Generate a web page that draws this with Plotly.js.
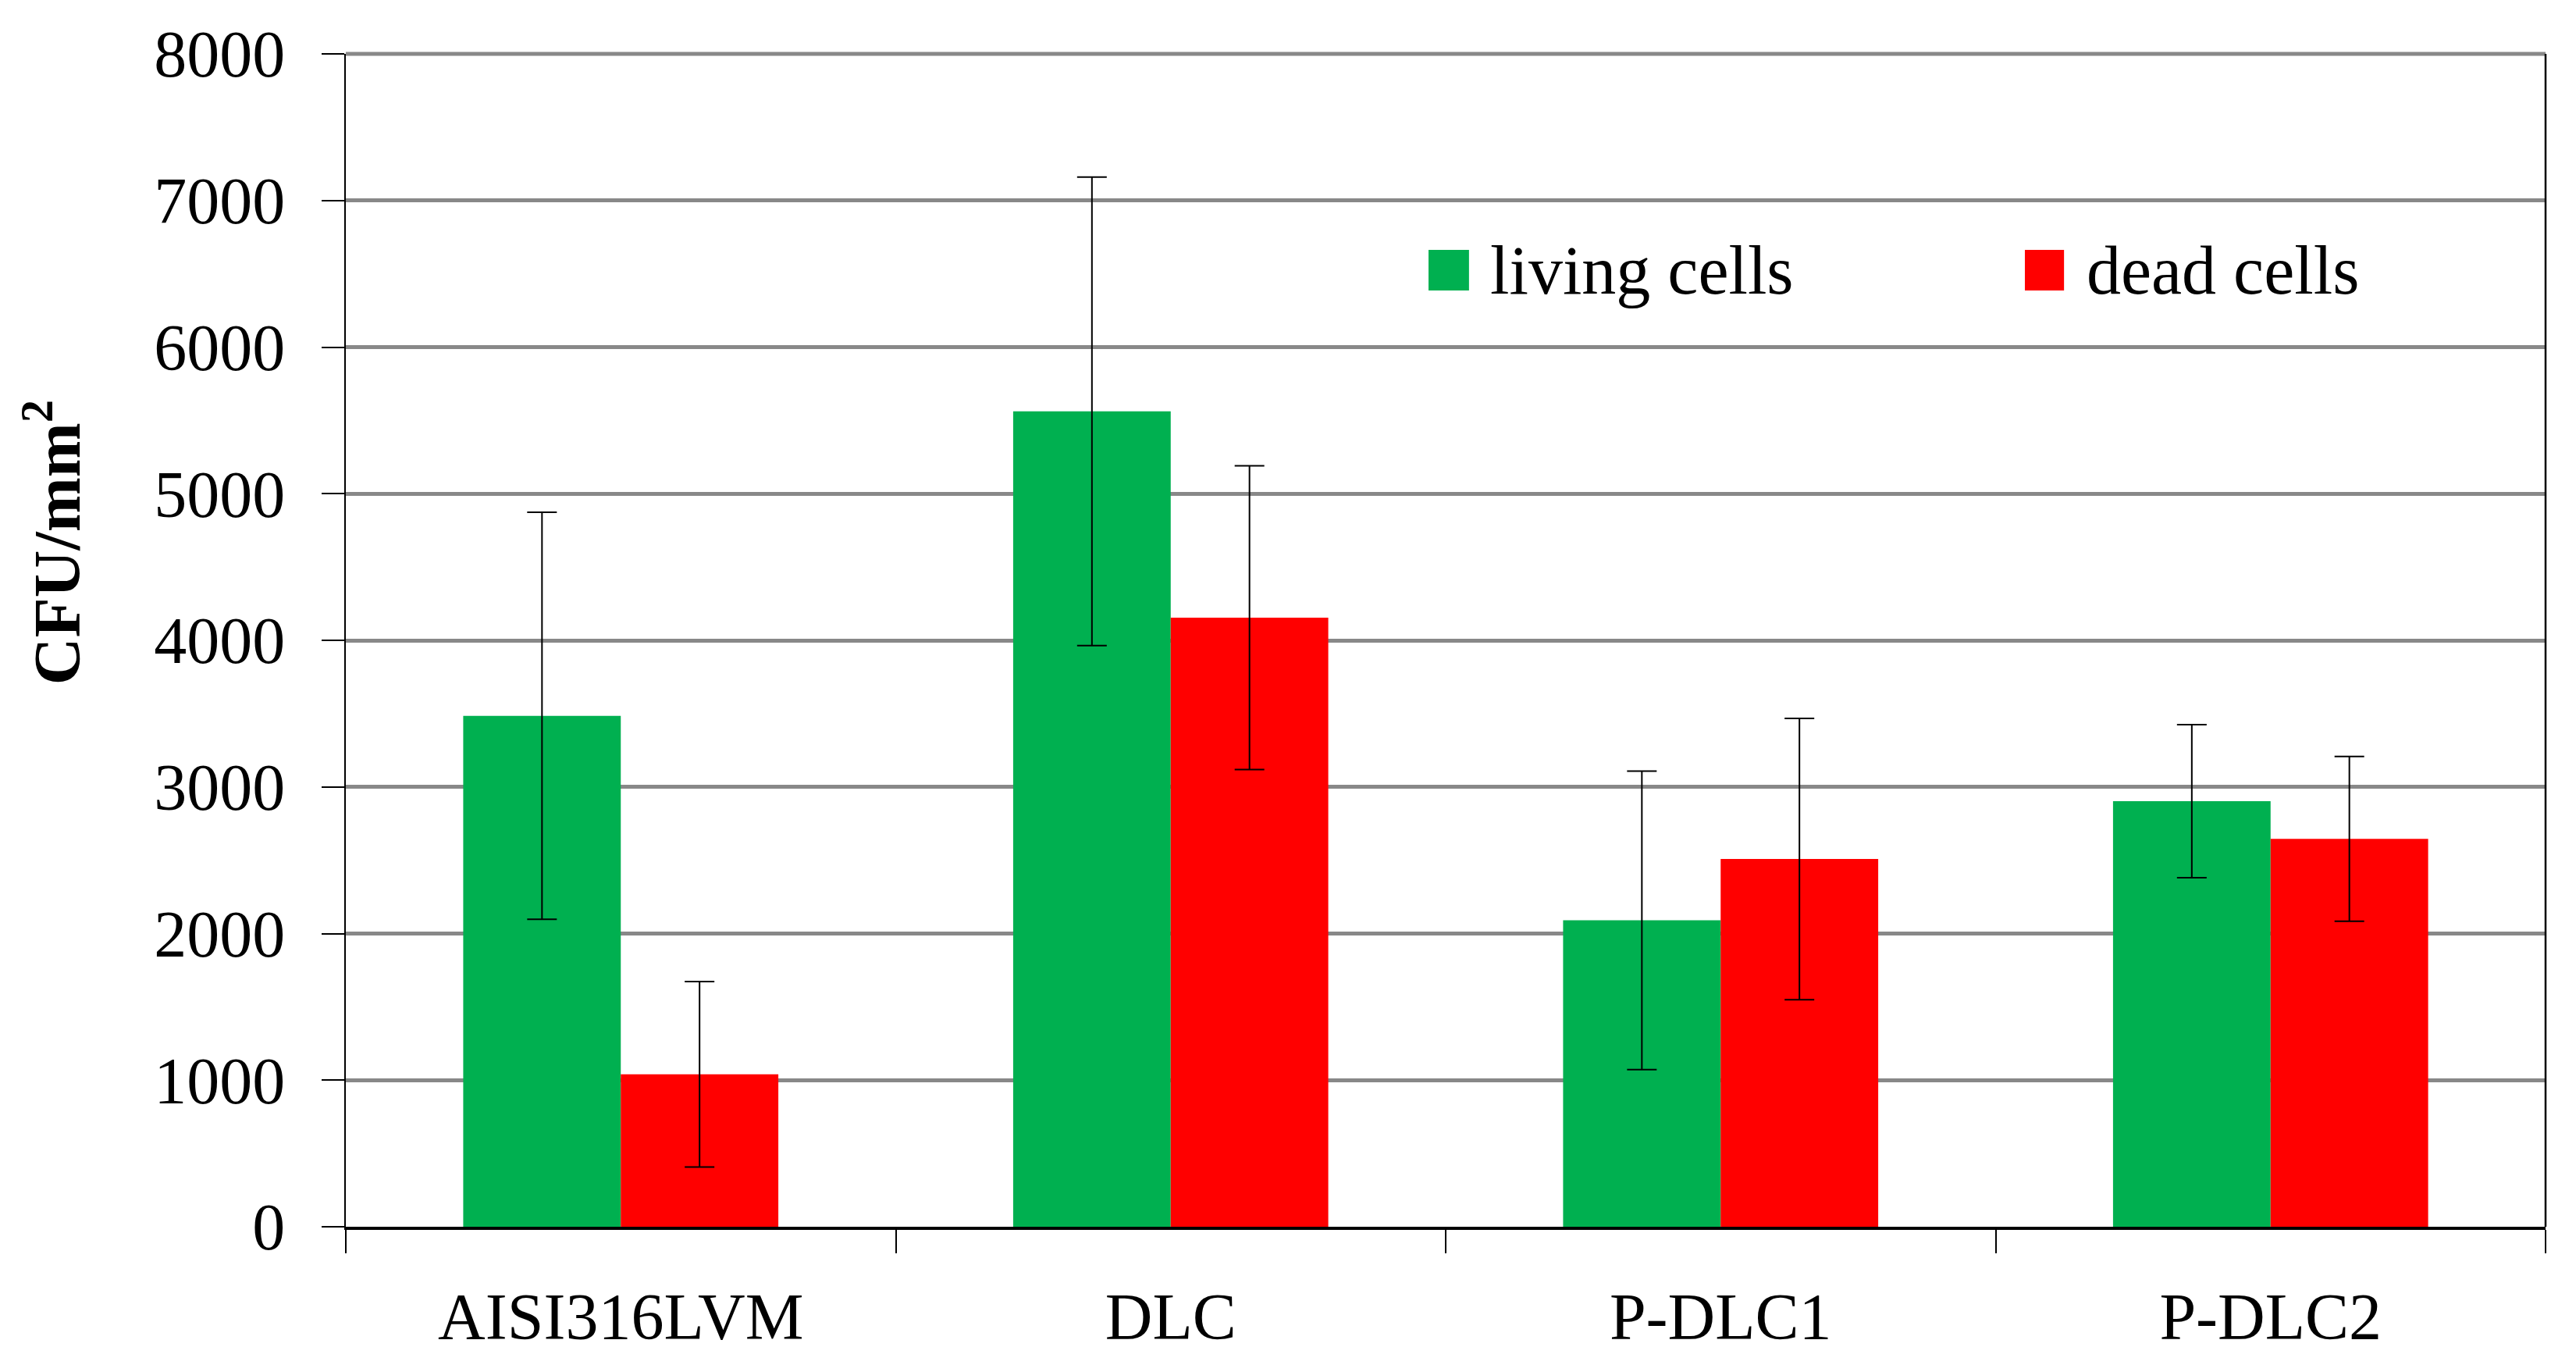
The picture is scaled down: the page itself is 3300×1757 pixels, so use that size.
<!DOCTYPE html>
<html>
<head>
<meta charset="utf-8">
<script src="https://cdn.plot.ly/plotly-3.0.1.min.js"></script>
<style>html,body{margin:0;padding:0;background:#fff;}#chart{width:3300px;height:1757px;}</style>
</head>
<body>
<div id="chart"></div>
<script>
// ---- data ----
const categories = ["AISI316LVM", "DLC", "P-DLC1", "P-DLC2"];
const livingName = "living cells";
const deadName = "dead cells";
const livingValues = [3485, 5562, 2090, 2903];
const livingErrors = [1388, 1598, 1018, 522];
const deadValues = [1040, 4155, 2508, 2646];
const deadErrors = [633, 1036, 959, 562];
const yTickValues = [0, 1000, 2000, 3000, 4000, 5000, 6000, 7000, 8000];
const yTitle = "CFU/mm<sup>2</sup>";

const GREEN = "#00B050";
const RED = "#FF0000";
const GRID = "#888888";
const FONT = "Liberation Serif, Times New Roman, serif";

function errBar(arr) {
  return {type: "data", array: arr, visible: true, color: "#000", thickness: 2, width: 19};
}

const traces = [
  {type: "bar", name: livingName, x: categories, y: livingValues, marker: {color: GREEN},
   error_y: errBar(livingErrors), showlegend: false, hoverinfo: "skip"},
  {type: "bar", name: deadName, x: categories, y: deadValues, marker: {color: RED},
   error_y: errBar(deadErrors), showlegend: false, hoverinfo: "skip"}
];

// legend drawn as large squares + text (reference uses big swatches)
const legendItems = [
  {name: livingName, color: GREEN, x0: 0.4922, x1: 0.5106, tx: 0.5195},
  {name: deadName, color: RED, x0: 0.7633, x1: 0.7811, tx: 0.7906}
];
const shapes = legendItems.map(it => ({
  type: "rect", xref: "paper", yref: "paper", x0: it.x0, x1: it.x1, y0: 0.7982, y1: 0.8329,
  fillcolor: it.color, line: {width: 0}
}));
// top gridline (8000) and right border of the plot area
shapes.push({type: "line", xref: "paper", yref: "paper", x0: 0, x1: 1, y0: 1, y1: 1,
  line: {color: GRID, width: 5}});
shapes.push({type: "line", xref: "paper", yref: "paper", x0: 1, x1: 1, y0: 0, y1: 1,
  line: {color: "#000", width: 2.5}});

const annotations = legendItems.map(it => ({
  xref: "paper", yref: "paper", x: it.tx, y: 0.8155, xanchor: "left", yanchor: "middle",
  text: it.name, showarrow: false, font: {family: FONT, size: 88, color: "#000"}
}));
annotations.push({
  xref: "paper", yref: "paper", x: -0.1334, y: 0.5831, xanchor: "center", yanchor: "middle",
  textangle: -90, text: yTitle, showarrow: false,
  font: {family: FONT, size: 84, color: "#000", weight: "bold"}
});

const layout = {
  width: 3300, height: 1757,
  margin: {l: 443, r: 39, t: 69, b: 186, pad: 0},
  paper_bgcolor: "#fff", plot_bgcolor: "#fff",
  barmode: "group", bargap: 0.427, bargroupgap: 0,
  showlegend: false,
  font: {family: FONT, size: 84, color: "#000"},
  xaxis: {
    type: "category", range: [-0.5, 3.5],
    showline: true, linecolor: "#000", linewidth: 3.5,
    ticks: "outside", tickson: "boundaries", ticklen: 30, tickwidth: 2, tickcolor: "#000",
    ticklabelstandoff: 40,
    showgrid: false, zeroline: false,
    tickfont: {family: FONT, size: 84, color: "#000"}
  },
  yaxis: {
    range: [0, 8000], tickvals: yTickValues, ticktext: yTickValues.map(String),
    showline: true, linecolor: "#000", linewidth: 2,
    ticks: "outside", ticklen: 29, tickwidth: 2, tickcolor: "#000",
    ticklabelstandoff: 30,
    showgrid: true, gridcolor: GRID, gridwidth: 5, zeroline: false,
    tickfont: {family: FONT, size: 84, color: "#000"}
  },
  shapes: shapes,
  annotations: annotations
};

Plotly.newPlot("chart", traces, layout, {staticPlot: true, displayModeBar: false});
</script>
</body>
</html>
